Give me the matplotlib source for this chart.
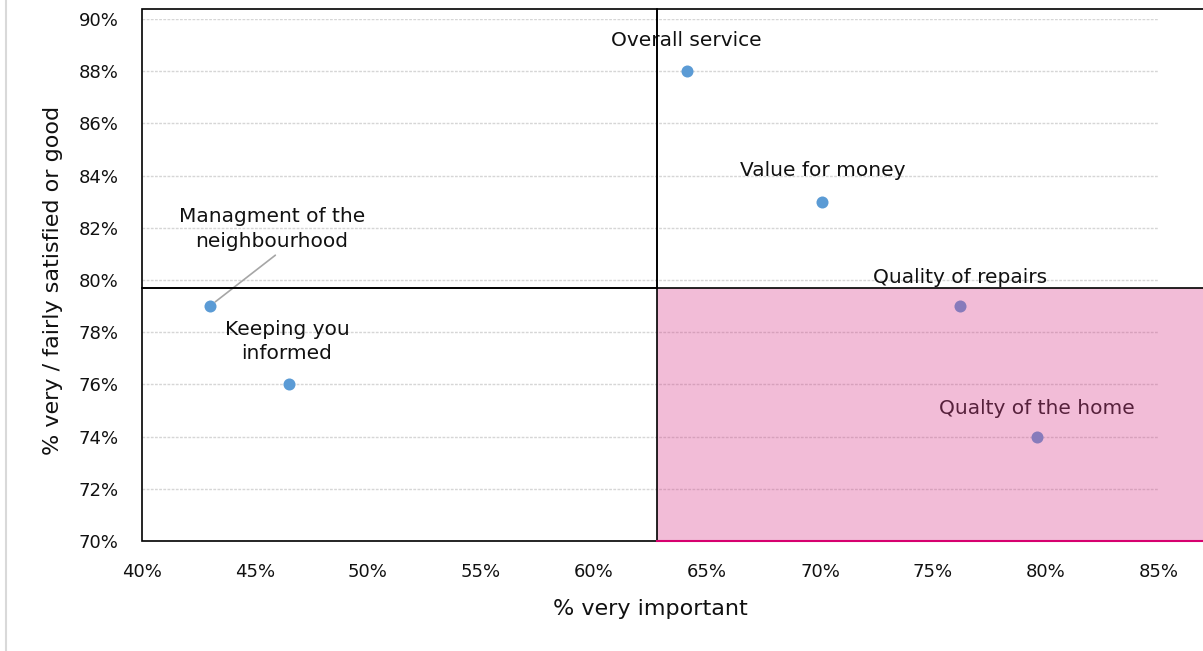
import matplotlib
matplotlib.use("Agg")
import matplotlib.pyplot as plt
from matplotlib.patches import Rectangle
from matplotlib.lines import Line2D
from matplotlib.ticker import FuncFormatter

# Service aspects: importance (x) vs satisfaction (y), in percent
labels = [
    "Overall service",
    "Value for money",
    "Managment of the\nneighbourhood",
    "Keeping you\ninformed",
    "Quality of repairs",
    "Qualty of the home",
]
pct_very_important = [64.1, 70.1, 43.0, 46.5, 76.2, 79.6]
pct_satisfied = [88, 83, 79, 76, 79, 74]

# Quadrant dividers
x_split = 62.8
y_split = 79.7

x_ticks = [40, 45, 50, 55, 60, 65, 70, 75, 80, 85]
y_ticks = [70, 72, 74, 76, 78, 80, 82, 84, 86, 88, 90]

# label offsets from each point, in pixels (dx, dy)
label_offsets = [(0, 31), (0, 31), (62, 77), (-2, 43), (0, 29), (0, 28)]

plt.rcParams["font.family"] = ["DejaVu Sans"]
dpi = 100
fig = plt.figure(figsize=(12.03, 6.51), dpi=dpi)
ax = fig.add_axes([142 / 1203, 1 - 541 / 651, (1159 - 142) / 1203, (541 - 19) / 651])

ax.set_xlim(x_ticks[0], x_ticks[-1])
ax.set_ylim(y_ticks[0], y_ticks[-1])
ax.set_xticks(x_ticks)
ax.set_yticks(y_ticks)
fmt = FuncFormatter(lambda v, p: f"{v:.0f}%")
ax.xaxis.set_major_formatter(fmt)
ax.yaxis.set_major_formatter(fmt)
ax.tick_params(length=0, labelsize=13, colors="#111111")
ax.tick_params(axis="x", pad=16)
ax.tick_params(axis="y", pad=17)
for s in ax.spines.values():
    s.set_visible(False)

ax.grid(axis="y", color="#d6d6d6", linestyle=(0, (2, 1)), linewidth=1, zorder=0)
ax.set_axisbelow(True)

ax.set_xlabel("% very important", fontsize=16, color="#111111", labelpad=13)
ax.set_ylabel("% very / fairly satisfied or good", fontsize=16, color="#111111", labelpad=11)

# Quadrant boxes (extend beyond the plotting area like the drawn shapes)
top = 90.38
far_right = 95
box_kw = dict(fill=False, edgecolor="black", linewidth=1.2, clip_on=False, zorder=5)
ax.add_patch(Rectangle((x_ticks[0], y_split), x_split - x_ticks[0], top - y_split, **box_kw))
ax.add_patch(Rectangle((x_split, y_split), far_right - x_split, top - y_split, **box_kw))
ax.add_patch(Rectangle((x_ticks[0], y_ticks[0]), x_split - x_ticks[0], y_split - y_ticks[0], **box_kw))
ax.add_patch(Rectangle((x_split, y_ticks[0]), far_right - x_split, y_split - y_ticks[0],
                       facecolor="#da408d", alpha=0.35, edgecolor="none", clip_on=False, zorder=4))
ax.plot([x_split, far_right], [y_ticks[0], y_ticks[0]], color="#d6006e", lw=1.5,
        clip_on=False, zorder=5)

# Points
ax.scatter(pct_very_important, pct_satisfied, s=75, color="#5b9bd5", zorder=3, linewidths=0)

px_to_pt = 72 / dpi
for name, xv, yv, (dx, dy) in zip(labels, pct_very_important, pct_satisfied, label_offsets):
    kw = {}
    if name.startswith("Managment"):
        kw["arrowprops"] = dict(arrowstyle="-", color="#a6a6a6", lw=1.2,
                                shrinkA=2, shrinkB=5, relpos=(0.55, 0.0))
    ax.annotate(name, (xv, yv), xytext=(dx * px_to_pt, dy * px_to_pt),
                textcoords="offset points", ha="center", va="center",
                fontsize=14.5, color="#111111", linespacing=1.35, zorder=3, **kw)

# thin frame line at the left edge of the chart area
fig.add_artist(Line2D([6 / 1203, 6 / 1203], [0, 1], color="#d9d9d9", lw=1.5,
                      transform=fig.transFigure))

fig.savefig("out.png", dpi=dpi)
